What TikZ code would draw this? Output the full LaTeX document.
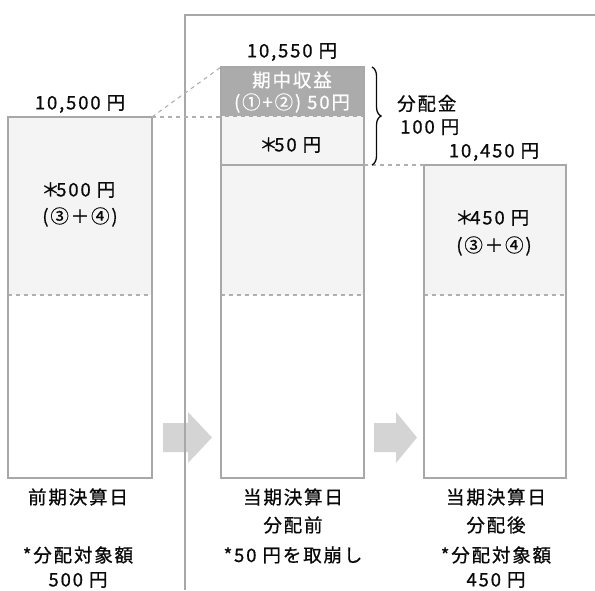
\documentclass[tikz,border=0pt]{standalone}
\usepackage{fontspec}
\setmainfont{Noto Sans CJK JP}[LetterSpace=10, UprightFeatures={FakeBold=0.7}]
\usetikzlibrary{decorations.pathreplacing}
\definecolor{boxline}{HTML}{A8A8A8}
\definecolor{lightfill}{HTML}{F4F4F4}
\definecolor{darkfill}{HTML}{ABABAB}
\definecolor{arrowfill}{HTML}{D4D4D4}
\definecolor{dashcol}{HTML}{B0B0B0}
\definecolor{txt}{HTML}{0A0A0A}
\newcommand{\bigast}{\makebox[0.62em][c]{＊}}
\begin{document}
\begin{tikzpicture}[x=1pt,y=-1pt,
  lbl/.style={font=\fontsize{18.5}{21}\selectfont, text=txt, align=center, inner sep=0pt, anchor=center},
  wlbl/.style={lbl, text=white},
  boxborder/.style={draw=boxline, line width=1.3pt},
  dashsep/.style={draw=dashcol, line width=1.1pt, dash pattern=on 4pt off 4pt},
  blockarrow/.style={fill=arrowfill, draw=none}]
\useasboundingbox (0,0) rectangle (595,590);
\fill[white] (0,0) rectangle (595,590);

% block arrows (under the frame line)
\fill[blockarrow] (163,423) -- (188,423) -- (188,412) -- (212,437.5) -- (188,463) -- (188,452) -- (163,452) -- cycle;
\fill[blockarrow] (374,423) -- (396,423) -- (396,412) -- (417,437.5) -- (396,463) -- (396,452) -- (374,452) -- cycle;

% frame
\draw[boxline, line width=1.3pt] (185,590) -- (185,15) -- (595,15);

% left box
\coordinate (L-tl) at (8,117);
\coordinate (L-tr) at (152,117);
\fill[lightfill] (8,117) rectangle (152,295);
\draw[dashsep] (8,295) -- (152,295);
\draw[boxborder] (8,117) rectangle (152,478);

% middle box
\coordinate (M-tl) at (221,67);
\coordinate (M-ml) at (221,117);
\coordinate (M-r) at (364,165);
\fill[darkfill] (221,67) rectangle (364,117);
\fill[lightfill] (221,117) rectangle (364,295);
\draw[draw=boxline, line width=1.3pt] (221,165) -- (364,165);
\draw[dashsep, draw=lightfill] (221,117) -- (364,117);
\draw[dashsep] (221,295) -- (364,295);
\draw[boxborder] (221,67) rectangle (364,478);

% right box
\coordinate (R-tl) at (424,165);
\fill[lightfill] (424,165) rectangle (566,295);
\draw[dashsep] (424,295) -- (566,295);
\draw[boxborder] (424,165) rectangle (566,478);

% dashed connectors
\draw[dashsep] (L-tr) -- (M-tl);
\draw[dashsep] (L-tr) -- (M-ml);
\draw[dashsep] (M-r) -- (R-tl);

% brace
\draw[txt, line width=1.3pt, decorate, decoration={brace, amplitude=9pt, aspect=0.5}] (372,67) -- (372,165);

% top values
\node[lbl] (v1) at (80,104) {10,500 円};
\node[lbl] (v2) at (292,52) {10,550 円};
\node[lbl] (v3) at (494,152) {10,450 円};
\node[lbl, align=left, anchor=west] (dist) at (397,115) {分配金\\[2pt]\,100 円};

% box contents
\node[wlbl] (g1) at (292,80) {期中収益};
\node[wlbl] (g2) at (292,103) {(①+②) 50円};
\node[lbl] (m1) at (292,145) {\bigast50 円};
\node[lbl] (l1) at (80,190) {\bigast500 円};
\node[lbl] (l2) at (80,217) {(③＋④)};
\node[lbl] (r1) at (494,218) {\bigast450 円};
\node[lbl] (r2) at (494,246) {(③＋④)};

% bottom labels
\node[lbl] (b1) at (78,497) {前期決算日};
\node[lbl] (b2) at (78,555) {*分配対象額};
\node[lbl] (b3) at (78,580) {500 円};
\node[lbl] (c1) at (293,497) {当期決算日};
\node[lbl] (c2) at (293,525) {分配前};
\node[lbl] (c3) at (293,555) {*50 円を取崩し};
\node[lbl] (d1) at (496,497) {当期決算日};
\node[lbl] (d2) at (496,525) {分配後};
\node[lbl] (d3) at (496,555) {*分配対象額};
\node[lbl] (d4) at (496,580) {450 円};
\end{tikzpicture}
\end{document}
